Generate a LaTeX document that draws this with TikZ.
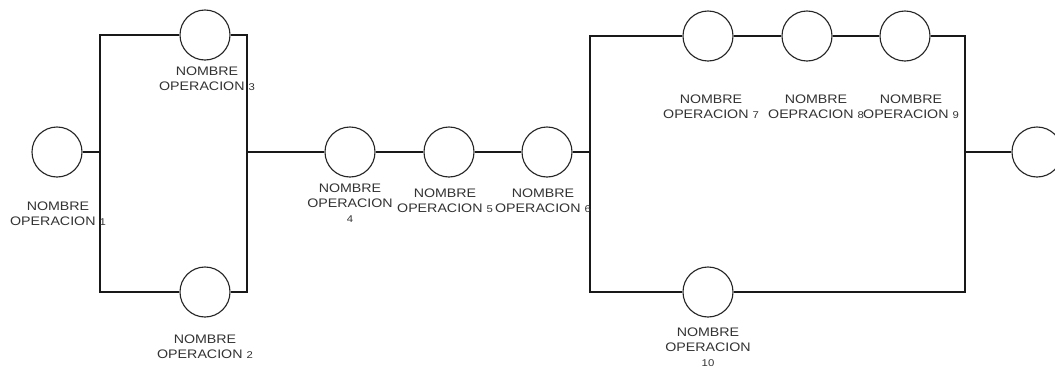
\documentclass[tikz,border=0pt]{standalone}
\usepackage{fontspec}
\newfontfamily\opfont[FakeStretch=1.15]{Liberation Sans}
\usepackage{tikz}

\newcommand{\opnum}[1]{{\fontsize{7}{7}\selectfont #1}}

\begin{document}
\begin{tikzpicture}[x=0.025cm,y=-0.025cm,
        op/.style={circle,draw=black!85,line width=0.8pt,minimum size=1.25cm,inner sep=0pt},
        oplabel/.style={align=center,inner sep=0pt,text=black!80,font=\opfont\fontsize{8.8}{10.5}\selectfont},
        wire/.style={draw=black!90,line width=0.8pt}]
        \useasboundingbox (0,0) rectangle (1055,371);
        \node[op] (c1) at (57,152) {};
        \node[op] (c3) at (205,35) {};
        \node[op] (c2) at (205,292) {};
        \node[op] (c4) at (350,152) {};
        \node[op] (c5) at (449,152) {};
        \node[op] (c6) at (547,152) {};
        \node[op] (c7) at (708,36) {};
        \node[op] (c8) at (807,36) {};
        \node[op] (c9) at (905,36) {};
        \node[op] (c10) at (708,292) {};
        \node[op] (c11) at (1037,152) {};
        \coordinate (lt) at (100,35);
        \coordinate (lm) at (100,152);
        \coordinate (lb) at (100,292);
        \coordinate (rt) at (247,35);
        \coordinate (rm) at (247,152);
        \coordinate (rb) at (247,292);
        \coordinate (pt) at (590,36);
        \coordinate (pm) at (590,152);
        \coordinate (pb) at (590,292);
        \coordinate (qt) at (965,36);
        \coordinate (qm) at (965,152);
        \coordinate (qb) at (965,292);
        \draw[wire] (c1) -- (lm);
        \draw[wire] (c3) -- (lt) -- (lb) -- (c2);
        \draw[wire] (c3) -- (rt) -- (rb) -- (c2);
        \draw[wire] (rm) -- (c4) -- (c5) -- (c6) -- (pm);
        \draw[wire] (c7) -- (pt) -- (pb) -- (c10);
        \draw[wire] (c7) -- (c8) -- (c9) -- (qt) -- (qb) -- (c10);
        \draw[wire] (qm) -- (c11);
        \node[oplabel] (l1) at (58,214) {NOMBRE\\OPERACION \opnum{1}};
        \node[oplabel] (l3) at (207,79) {NOMBRE\\OPERACION \opnum{3}};
        \node[oplabel] (l2) at (205,347) {NOMBRE\\OPERACION \opnum{2}};
        \node[oplabel] (l4) at (350,203) {NOMBRE\\OPERACION\\\opnum{4}};
        \node[oplabel] (l5) at (445,201) {NOMBRE\\OPERACION \opnum{5}};
        \node[oplabel] (l6) at (543,201) {NOMBRE\\OPERACION \opnum{6}};
        \node[oplabel] (l7) at (711,107) {NOMBRE\\OPERACION \opnum{7}};
        \node[oplabel] (l8) at (816,107) {NOMBRE\\OEPRACION \opnum{8}};
        \node[oplabel] (l9) at (911,107) {NOMBRE\\OPERACION \opnum{9}};
        \node[oplabel] (l10) at (708,347) {NOMBRE\\OPERACION\\\opnum{10}};
    \end{tikzpicture}
\end{document}
